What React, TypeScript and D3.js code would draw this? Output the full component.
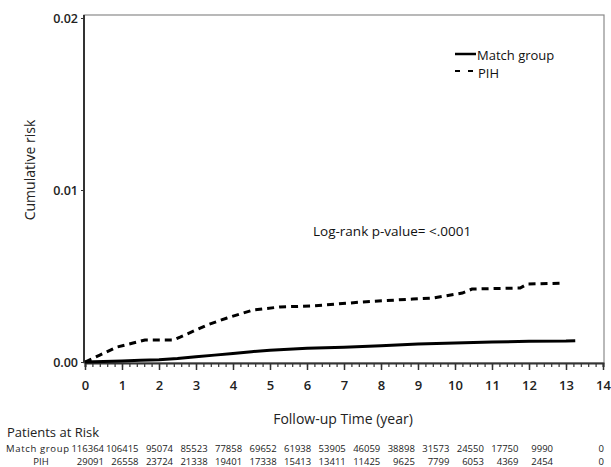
import * as d3 from "d3";
import { useEffect, useRef } from "react";

// cumulative risk curves
const matchTime = [0, 0.5, 1, 1.5, 2, 2.5, 3, 3.5, 4, 4.5, 5, 6, 7, 8, 9, 10, 11, 12, 13, 13.25];
const matchRisk = [0, 0.00003, 0.00006, 0.0001, 0.00013, 0.0002, 0.0003, 0.0004, 0.0005, 0.0006, 0.00068, 0.0008, 0.00086, 0.00095, 0.00104, 0.0011, 0.00116, 0.0012, 0.00122, 0.00124];

const pihTime = [0, 0.4, 0.86, 1.3, 1.62, 2.38, 2.57, 3.3, 3.84, 4.54, 5.27, 6.16, 6.8, 7.5, 8.86, 9.4, 10.2, 10.46, 11.76, 11.95, 12.95];
const pihRisk = [0, 0.0004, 0.00087, 0.0011, 0.00128, 0.00128, 0.00145, 0.00215, 0.00256, 0.00302, 0.0032, 0.00326, 0.00337, 0.00349, 0.00366, 0.00372, 0.00401, 0.00424, 0.0043, 0.00453, 0.00459];

const yTicks = [0, 0.01, 0.02];
const yTickLabels = ["0.00", "0.01", "0.02"];
const xTicks = d3.range(0, 15);

const riskCols = d3.range(0, 15);
const matchAtRisk = [116364, 106415, 95074, 85523, 77858, 69652, 61938, 53905, 46059, 38898, 31573, 24550, 17750, 9990, 0];
const pihAtRisk = [29091, 26558, 23724, 21338, 19401, 17338, 15413, 13411, 11425, 9625, 7799, 6053, 4369, 2454, 0];

const width = 611;
const height = 467;
const font = "'Open Sans', 'DejaVu Sans', sans-serif";

export default function App() {
  const ref = useRef<SVGSVGElement>(null);

  useEffect(() => {
    const svg = d3.select(ref.current);
    svg.selectAll("*").remove();

    const x = d3.scaleLinear().domain([0, 14]).range([85, 603]);
    const y = d3.scaleLinear().domain([0, 0.02]).range([362, 18]);
    // the at-risk table is not on the axis scale in the original
    const riskX = d3.scaleLinear().domain([0, 13, 14]).range([104, 553, 604]);

    // frame
    svg.append("rect")
      .attr("x", 84).attr("y", 15)
      .attr("width", 520).attr("height", 348)
      .attr("fill", "none")
      .attr("stroke", "#8a8a8a")
      .attr("stroke-width", 1.2);

    // y axis
    const yAxis = svg.append("g")
      .attr("transform", "translate(84,0)")
      .call(d3.axisLeft(y).tickValues(yTicks).tickSize(3).tickFormat((d, i) => yTickLabels[i]));
    yAxis.select(".domain").attr("stroke", "#333").attr("stroke-width", 2).attr("d", "M0,15V363");
    yAxis.selectAll("line").attr("stroke", "#333");
    yAxis.selectAll("text")
      .attr("font-family", font).attr("font-size", 12.5).attr("font-weight", 600)
      .attr("fill", "#222").attr("x", -6);

    // x axis: major and minor ticks
    const xAxis = svg.append("g").attr("transform", "translate(0,363)");
    xAxis.call(d3.axisBottom(x).tickValues(d3.range(0, 14.01, 0.2)).tickSize(4).tickFormat(() => ""));
    xAxis.select(".domain").attr("stroke", "#333").attr("stroke-width", 2);
    xAxis.selectAll("line").attr("stroke", "#333").attr("stroke-width", 1.2);
    const xMajor = svg.append("g").attr("transform", "translate(0,363)")
      .call(d3.axisBottom(x).tickValues(xTicks).tickSize(7).tickFormat(d3.format("d")));
    xMajor.select(".domain").remove();
    xMajor.selectAll("line").attr("stroke", "#333").attr("stroke-width", 1.5);
    xMajor.selectAll("text")
      .attr("font-family", font).attr("font-size", 13).attr("font-weight", 600)
      .attr("fill", "#222").attr("y", 18);

    // axis titles
    svg.append("text")
      .attr("transform", "translate(35,170) rotate(-90)")
      .attr("text-anchor", "middle")
      .attr("font-family", font).attr("font-size", 14).attr("fill", "#222")
      .text("Cumulative risk");
    svg.append("text")
      .attr("x", 343).attr("y", 424)
      .attr("text-anchor", "middle")
      .attr("font-family", font).attr("font-size", 14).attr("fill", "#222")
      .text("Follow-up Time (year)");

    // curves
    const line = d3.line<[number, number]>().x(d => x(d[0])).y(d => y(d[1]));
    svg.append("path")
      .datum(matchTime.map((t, i) => [t, matchRisk[i]] as [number, number]))
      .attr("d", line)
      .attr("fill", "none").attr("stroke", "#000").attr("stroke-width", 3);
    svg.append("path")
      .datum(pihTime.map((t, i) => [t, pihRisk[i]] as [number, number]))
      .attr("d", line)
      .attr("fill", "none").attr("stroke", "#000").attr("stroke-width", 3)
      .attr("stroke-dasharray", "7,5");

    // legend
    const legend = svg.append("g").attr("font-family", font).attr("font-size", 13).attr("fill", "#111");
    legend.append("line").attr("x1", 455).attr("x2", 476).attr("y1", 54).attr("y2", 54)
      .attr("stroke", "#000").attr("stroke-width", 2.5);
    legend.append("text").attr("x", 477).attr("y", 60).text("Match group");
    legend.append("line").attr("x1", 455).attr("x2", 476).attr("y1", 71).attr("y2", 71)
      .attr("stroke", "#000").attr("stroke-width", 2).attr("stroke-dasharray", "5,8");
    legend.append("text").attr("x", 478).attr("y", 78).text("PIH");

    svg.append("text")
      .attr("x", 313).attr("y", 236)
      .attr("font-family", font).attr("font-size", 13.5).attr("fill", "#111")
      .text("Log-rank p-value= <.0001");

    // patients at risk table
    svg.append("text")
      .attr("x", 7).attr("y", 437)
      .attr("font-family", font).attr("font-size", 13).attr("fill", "#222")
      .text("Patients at Risk");
    const table = svg.append("g").attr("font-family", font).attr("font-size", 9.5).attr("fill", "#222");
    table.append("text").attr("x", 6).attr("y", 452).attr("textLength", 63).text("Match group");
    table.append("text").attr("x", 41).attr("y", 465).attr("text-anchor", "middle").text("PIH");
    table.selectAll(".m").data(riskCols).join("text")
      .attr("x", d => riskX(d)).attr("y", 452).attr("text-anchor", "end")
      .text(d => matchAtRisk[d]);
    table.selectAll(".p").data(riskCols).join("text")
      .attr("x", d => riskX(d)).attr("y", 465).attr("text-anchor", "end")
      .text(d => pihAtRisk[d]);
  }, []);

  return (
    <svg ref={ref} width={width} height={height}
      style={{ position: "absolute", left: 0, top: 0, background: "#fff" }} />
  );
}
